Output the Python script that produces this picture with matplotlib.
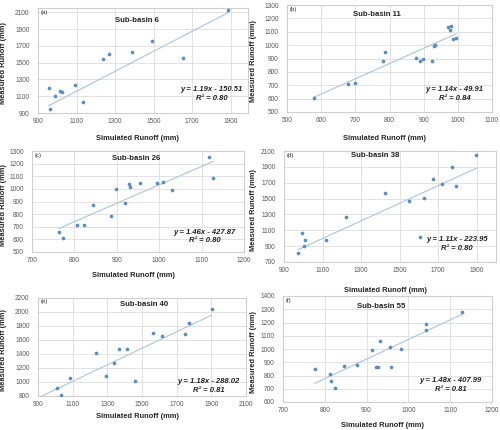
import numpy as np
import matplotlib.pyplot as plt

plt.rcParams['font.family'] = ['Liberation Sans', 'DejaVu Sans']

# data
panel_tags = ['(a)', '(b)', '(c)', '(d)', '(e)', '(f)']
titles = ['Sub-basin 6', 'Sub-basin 11', 'Sub-basin 26', 'Sub-basin 38', 'Sub-basin 40', 'Sub-basin 55']

sim_6 = [955, 960, 990, 1012, 1023, 1093, 1135, 1235, 1270, 1388, 1492, 1653, 1888]
obs_6 = [1195, 945, 1100, 1160, 1145, 1235, 1030, 1545, 1600, 1630, 1760, 1550, 2125]

sim_11 = [578, 679, 698, 782, 786, 877, 889, 899, 925, 929, 933, 971, 980, 978, 985, 995]
obs_11 = [607, 711, 714, 883, 947, 907, 885, 898, 880, 997, 1002, 1134, 1146, 1111, 1049, 1057]

sim_26 = [763, 773, 805, 823, 845, 886, 899, 920, 928, 930, 954, 994, 1010, 1030, 1118, 1127]
obs_26 = [662, 610, 710, 710, 875, 782, 1000, 888, 1035, 1015, 1045, 1050, 1058, 988, 1250, 1085]

sim_38 = [975, 992, 1006, 1009, 1120, 1222, 1422, 1548, 1605, 1628, 1675, 1720, 1770, 1795, 1898]
obs_38 = [810, 1060, 905, 975, 980, 1266, 1565, 1465, 1020, 1505, 1742, 1687, 1897, 1660, 2050]

sim_40 = [1010, 1031, 1087, 1234, 1290, 1341, 1368, 1412, 1458, 1561, 1613, 1746, 1771, 1902]
obs_40 = [914, 814, 1061, 1408, 1090, 1266, 1470, 1470, 1019, 1693, 1655, 1684, 1837, 2046]

sim_55 = [776, 812, 815, 825, 846, 878, 913, 922, 927, 933, 955, 958, 982, 1043, 1043, 1129]
obs_55 = [848, 810, 758, 708, 875, 880, 992, 865, 865, 1058, 1015, 866, 1002, 1188, 1140, 1282]

sims = [sim_6, sim_11, sim_26, sim_38, sim_40, sim_55]
obss = [obs_6, obs_11, obs_26, obs_38, obs_40, obs_55]

slopes = [1.19, 1.14, 1.46, 1.11, 1.18, 1.48]
intercepts = [-150.51, -49.91, -427.87, -223.95, -288.02, -407.99]
r2 = ['0.80', '0.84', '0.80', '0.80', '0.81', '0.81']
trend_from = [None, None, None, None, 900, None]  # (e) trendline runs back to the axis

xlims = [(900, 1990), (500, 1100), (700, 1200), (900, 2000), (900, 2100), (700, 1200)]
ylims = [(900, 2150), (500, 1300), (500, 1300), (700, 2100), (800, 2200), (600, 1400)]
xsteps = [200, 100, 100, 200, 200, 100]
ysteps = [200, 100, 100, 200, 200, 100]

# axes boxes in pixels: left, top, right, bottom
boxes = [(38, 8, 248, 113), (287, 5, 492, 112),
         (32, 151, 244, 252), (284, 151, 496, 262),
         (38, 298, 246, 396), (283, 296, 492, 402)]
title_pos = [(0.47, 0.88), (0.44, 0.91), (0.49, 0.93), (0.43, 0.955), (0.51, 0.93), (0.47, 0.90)]
eq_pos = [(0.975, 0.18), (0.96, 0.17), (0.96, 0.155), (0.96, 0.16), (0.97, 0.10), (0.95, 0.16)]
xlabel_y = [135, 135, 272, 287, 413, 422]

W, H = 500, 430
fig = plt.figure(figsize=(5, 4.3), dpi=100)

for i in range(6):
    l, t, r, b = boxes[i]
    ax = fig.add_axes([l / W, 1 - b / H, (r - l) / W, (b - t) / H])
    x = np.array(sims[i])
    y = np.array(obss[i])
    ax.scatter(x, y, s=7, color='#5B8DC5', linewidths=0, zorder=3)
    x0 = trend_from[i] if trend_from[i] is not None else x.min()
    xs = np.array([x0, x.max()])
    ax.plot(xs, slopes[i] * xs + intercepts[i], color='#A9C5DD', lw=0.8, zorder=2)

    ax.set_xlim(xlims[i])
    ax.set_ylim(ylims[i])
    ax.set_xticks(np.arange(xlims[i][0], xlims[i][1] + 1, xsteps[i]))
    ax.set_yticks(np.arange(ylims[i][0], ylims[i][1] + 1, ysteps[i]))
    ax.tick_params(length=0, labelsize=4.7, colors='#595959')
    ax.tick_params(axis='y', pad=6)
    ax.tick_params(axis='x', pad=3.5)
    ax.grid(True, color='#DDDDDD', lw=0.6)
    ax.set_axisbelow(True)
    for sp in ax.spines.values():
        sp.set_color('#CFCFCF')
        sp.set_linewidth(0.8)

    ax.text(0.012, 0.985, panel_tags[i], transform=ax.transAxes, fontsize=4.3,
            ha='left', va='top', color='#333333')
    ax.text(title_pos[i][0], title_pos[i][1], titles[i], transform=ax.transAxes,
            fontsize=5.6, fontweight='bold', ha='center', va='center', color='#222222')
    sign = '-' if intercepts[i] < 0 else '+'
    eq = 'y = %.2fx %s %.2f\nR² = %s' % (slopes[i], sign, abs(intercepts[i]), r2[i])
    ax.text(eq_pos[i][0], eq_pos[i][1], eq, transform=ax.transAxes, fontsize=5.5,
            fontweight='bold', fontstyle='italic', ha='right', va='center',
            multialignment='center', linespacing=1.3, color='#222222')

    ax.set_xlabel('Simulated Runoff (mm)', fontsize=5.4, fontweight='bold', color='#262626')
    ax.xaxis.set_label_coords(((l + r) / 2 - 5) / W, 1 - xlabel_y[i] / H, transform=fig.transFigure)
    ax.set_ylabel('Measured Runoff (mm)', fontsize=5.4, fontweight='bold', color='#262626')
    ylx = 7 if l < 150 else 257
    ax.yaxis.set_label_coords(ylx / W, 1 - ((t + b) / 2 + 3) / H, transform=fig.transFigure)

fig.savefig('out.png', dpi=100)
